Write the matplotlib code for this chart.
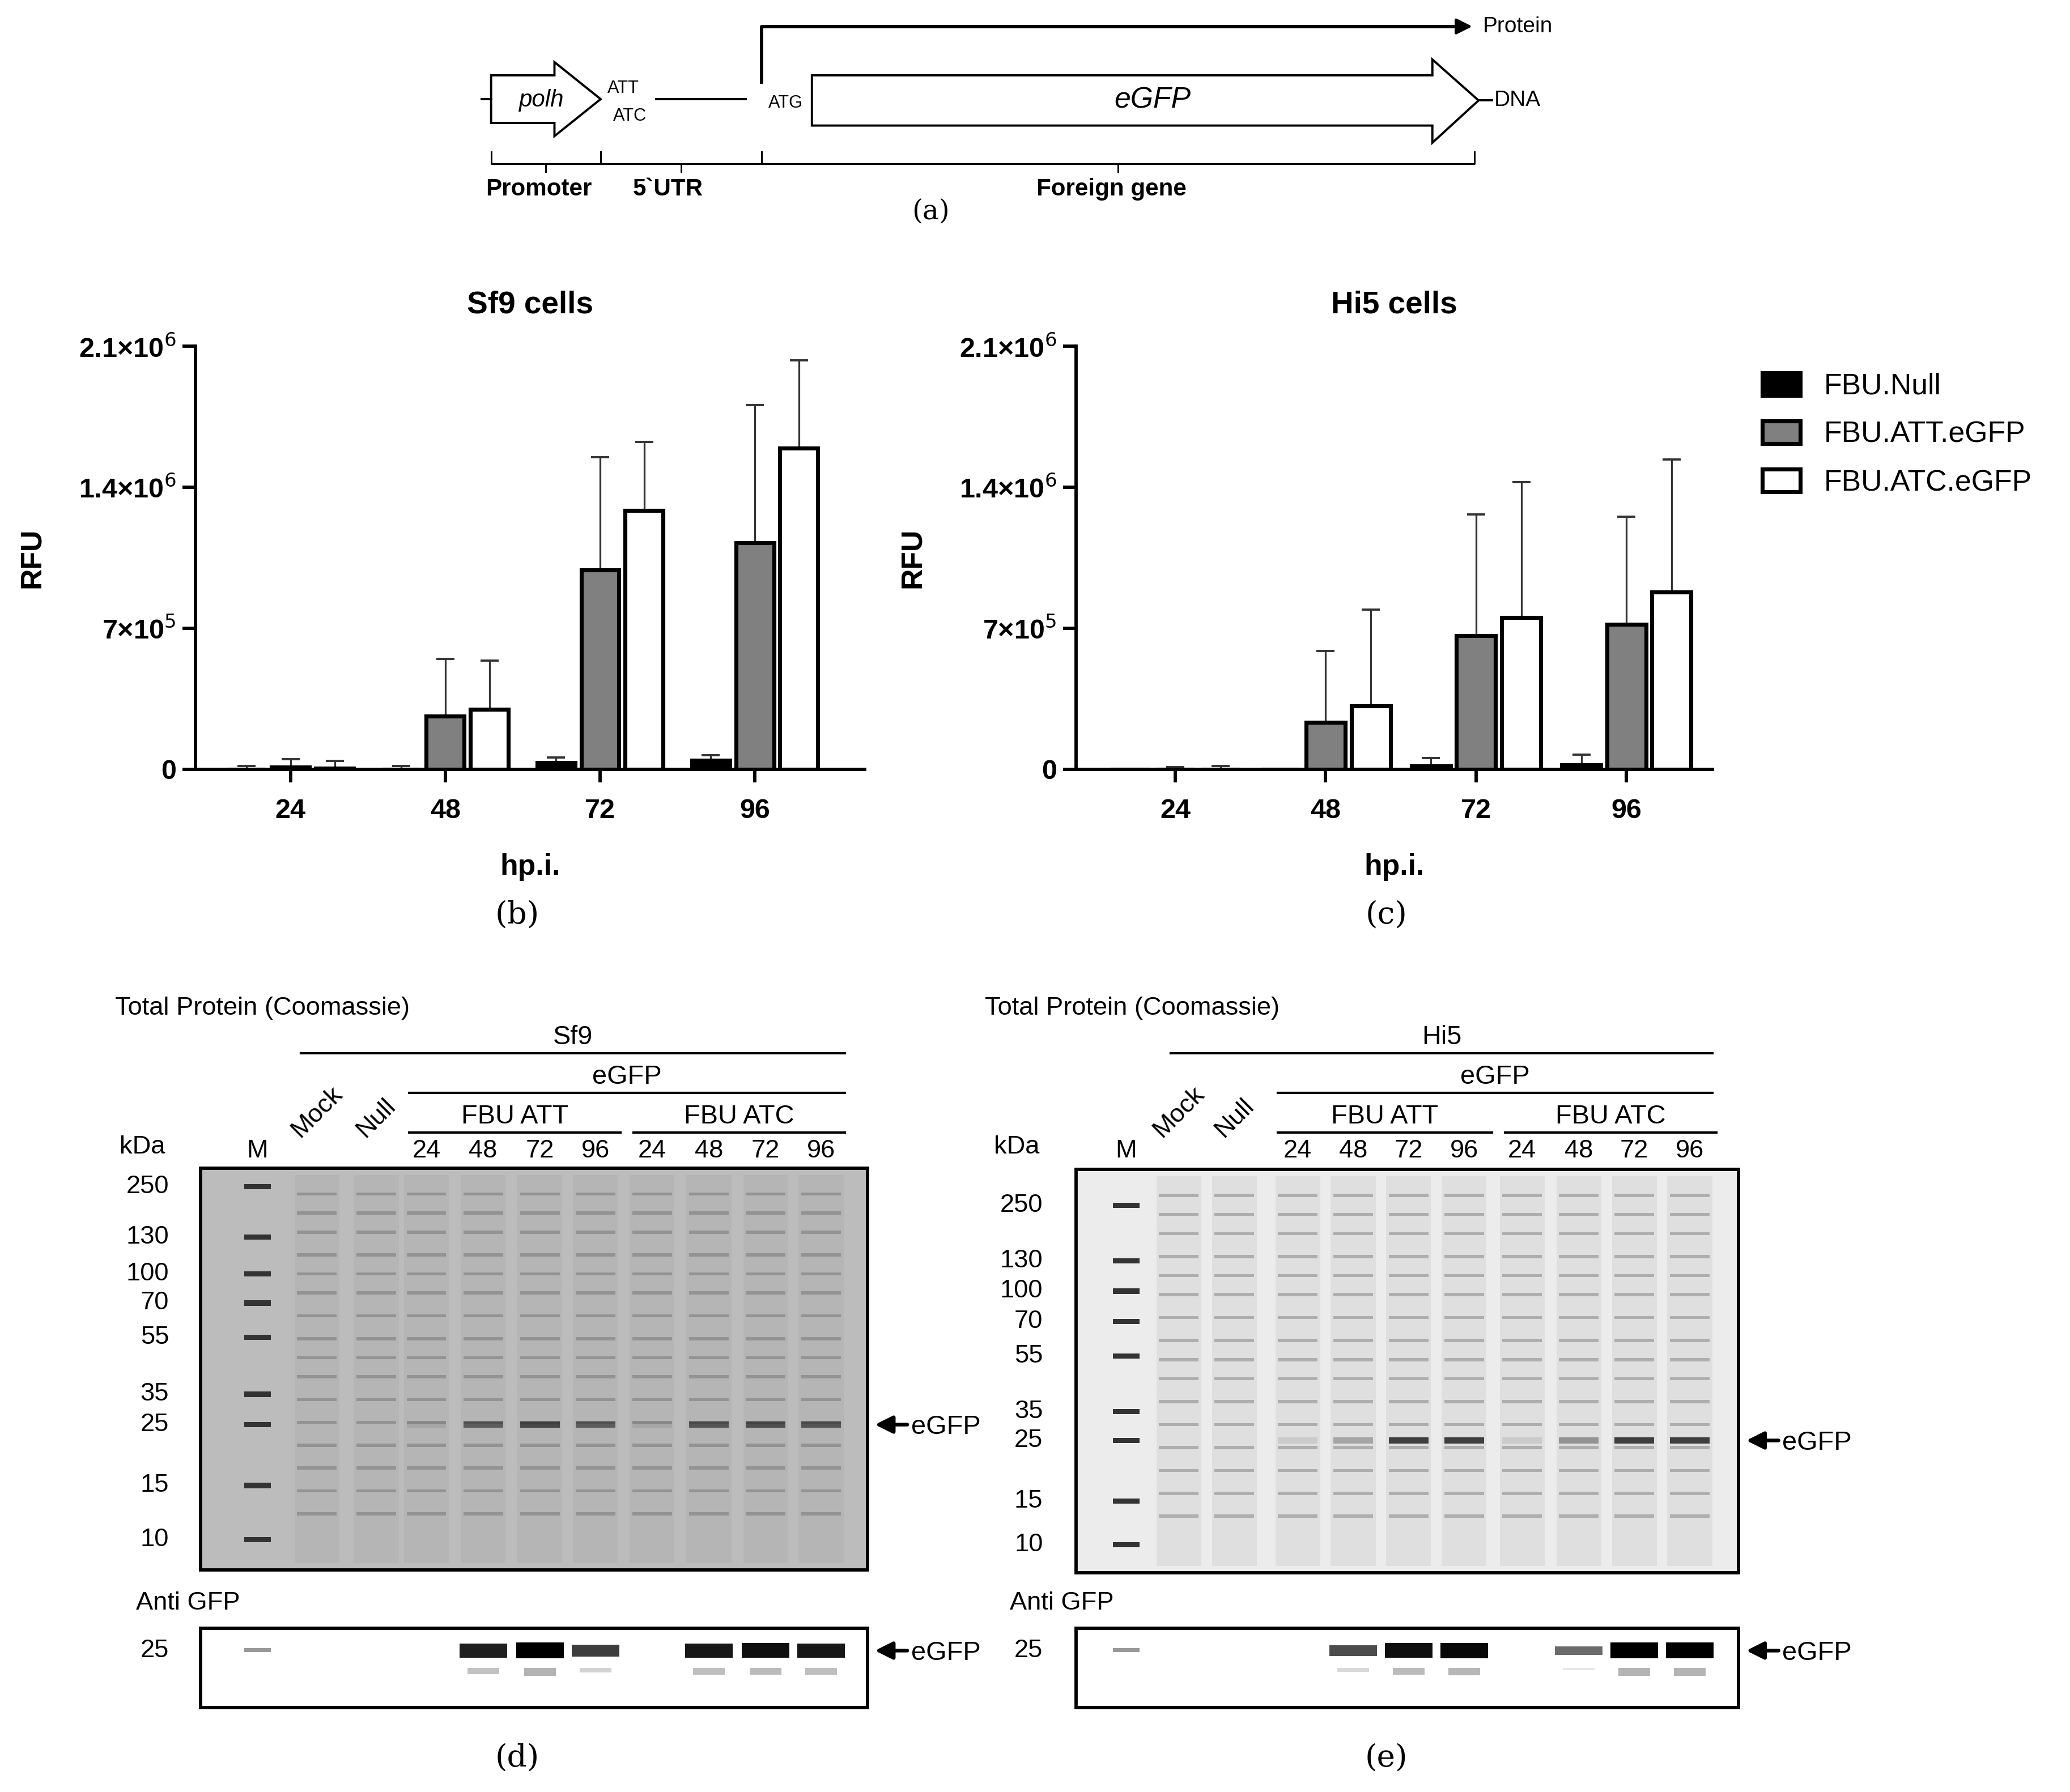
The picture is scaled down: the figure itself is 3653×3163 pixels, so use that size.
import matplotlib
matplotlib.use("Agg")
import matplotlib.pyplot as plt
import numpy as np
from matplotlib.patches import Polygon, Rectangle

plt.rcParams['font.family'] = ['Liberation Sans', 'DejaVu Sans']

# ---------------- data ----------------
hpi = ["24", "48", "72", "96"]
series = ["FBU.Null", "FBU.ATT.eGFP", "FBU.ATC.eGFP"]
sf9_null = [0.0, 0.0, 0.032e6, 0.043e6]
sf9_null_err = [0.015e6, 0.015e6, 0.026e6, 0.026e6]
sf9_att = [0.01e6, 0.263e6, 0.989e6, 1.123e6]
sf9_att_err = [0.04e6, 0.283e6, 0.560e6, 0.685e6]
sf9_atc = [0.005e6, 0.296e6, 1.285e6, 1.594e6]
sf9_atc_err = [0.035e6, 0.244e6, 0.341e6, 0.436e6]
hi5_null = [0.0, 0.0, 0.017e6, 0.022e6]
hi5_null_err = [0.0, 0.0, 0.037e6, 0.051e6]
hi5_att = [0.0, 0.231e6, 0.663e6, 0.719e6]
hi5_att_err = [0.01e6, 0.356e6, 0.603e6, 0.534e6]
hi5_atc = [0.0, 0.313e6, 0.754e6, 0.879e6]
hi5_atc_err = [0.015e6, 0.480e6, 0.671e6, 0.659e6]
yticks = [0, 7e5, 1.4e6, 2.1e6]
ytick_labels = ["0", r"7×10$^5$", r"1.4×10$^6$", r"2.1×10$^6$"]

marker_kda = ["250", "130", "100", "70", "55", "35", "25", "15", "10"]
lanes = ["M", "Mock", "Null", "24", "48", "72", "96", "24", "48", "72", "96"]
sf9_blot = [0, 0, 0, 0, 0.8, 1.0, 0.6, 0, 0.85, 0.9, 0.85]
hi5_blot = [0, 0, 0, 0, 0.5, 0.9, 0.95, 0, 0.3, 1.0, 1.0]
sf9_gel_egfp = [0, 0, 0, 0.1, 0.6, 0.75, 0.6, 0.1, 0.65, 0.7, 0.65]
hi5_gel_egfp = [0, 0, 0, 0.1, 0.3, 0.85, 0.85, 0.1, 0.4, 0.85, 0.85]

W, H = 1568, 1356
fig = plt.figure(figsize=(3653/233, 3163/233), dpi=233)
ax0 = fig.add_axes([0, 0, 1, 1])
ax0.set_xlim(0, W); ax0.set_ylim(H, 0); ax0.axis('off')

# ---------------- (a) schematic ----------------
lw = 1.2
ax0.plot([365, 372], [75, 75], color='k', lw=lw)
ax0.add_patch(Polygon([[372, 57], [420, 57], [420, 47], [455, 75], [420, 103], [420, 93], [372, 93]],
                      closed=True, fc='white', ec='k', lw=lw))
ax0.text(410, 76, "polh", style='italic', fontsize=13, ha='center', va='center')
ax0.text(472, 67, "ATT", fontsize=9.5, ha='center', va='center')
ax0.text(477, 88, "ATC", fontsize=9.5, ha='center', va='center')
ax0.plot([497, 565], [75, 75], color='k', lw=lw)
ax0.text(595, 78, "ATG", fontsize=9.5, ha='center', va='center')
ax0.add_patch(Polygon([[615, 57], [1085, 57], [1085, 45], [1120, 76], [1085, 108], [1085, 95], [615, 95]],
                      closed=True, fc='white', ec='k', lw=lw))
ax0.text(873, 76, "eGFP", style='italic', fontsize=16, ha='center', va='center')
ax0.plot([1120, 1130], [76, 76], color='k', lw=lw)
ax0.text(1132, 76, "DNA", fontsize=12, ha='left', va='center')
ax0.plot([577, 577, 1100], [62, 20, 20], color='k', lw=1.8)
ax0.annotate("", xy=(1118, 20), xytext=(1095, 20),
             arrowprops=dict(arrowstyle='-|>', color='k', lw=1.5, mutation_scale=18))
ax0.text(1123, 20, "Protein", fontsize=12, ha='left', va='center')
for x1, x2 in [(372, 455), (455, 577), (577, 1117)]:
    ax0.plot([x1, x1, x2, x2], [115, 124, 124, 115], color='k', lw=0.9)
    ax0.plot([(x1+x2)/2]*2, [124, 130], color='k', lw=0.9)
ax0.text(408, 143, "Promoter", fontsize=13, fontweight='bold', ha='center', va='center')
ax0.text(506, 143, "5`UTR", fontsize=13, fontweight='bold', ha='center', va='center')
ax0.text(842, 143, "Foreign gene", fontsize=13, fontweight='bold', ha='center', va='center')
ax0.text(705, 160, "(a)", family='DejaVu Serif', fontsize=15, ha='center', va='center')
ax0.text(392, 692, "(b)", family='DejaVu Serif', fontsize=17, ha='center', va='center')
ax0.text(1050, 692, "(c)", family='DejaVu Serif', fontsize=17, ha='center', va='center')
ax0.text(392, 1330, "(d)", family='DejaVu Serif', fontsize=17, ha='center', va='center')
ax0.text(1050, 1330, "(e)", family='DejaVu Serif', fontsize=17, ha='center', va='center')

# ---------------- bar charts ----------------
colors = ['black', '#808080', 'white']
def bars(ax, vals, errs, width, offs, xlim, title):
    x = np.arange(len(hpi))
    for i, (v, e) in enumerate(zip(vals, errs)):
        xi = x + offs[i]
        ax.bar(xi, v, width, color=colors[i], edgecolor='black', linewidth=2.2, label=series[i], zorder=3)
        ax.errorbar(xi, v, yerr=[np.zeros(len(v)), e], fmt='none', ecolor='#333333',
                    elinewidth=1.0, capsize=5, capthick=1.2, zorder=2)
    ax.set_xlim(*xlim); ax.set_ylim(0, 2.1e6)
    ax.set_xticks(x, hpi)
    ax.set_yticks(yticks, ytick_labels)
    for s in ['top', 'right']:
        ax.spines[s].set_visible(False)
    for s in ['left', 'bottom']:
        ax.spines[s].set_linewidth(1.8)
    ax.tick_params(width=1.8, length=7, labelsize=15)
    ax.tick_params(axis='x', pad=9)
    for t in ax.get_xticklabels() + ax.get_yticklabels():
        t.set_fontweight('bold')
    ax.set_xlabel("hp.i.", fontsize=16, fontweight='bold', labelpad=16)
    ax.set_ylabel("RFU", fontsize=16, fontweight='bold', labelpad=18)
    ax.set_title(title, fontsize=17, fontweight='bold', pad=18)

ax1 = fig.add_axes([148/W, 1-582/H, 507/W, 320/H])
bars(ax1, [sf9_null, sf9_att, sf9_atc], [sf9_null_err, sf9_att_err, sf9_atc_err],
     0.245, [-0.285, 0, 0.285], (-0.615, 3.71), "Sf9 cells")
ax2 = fig.add_axes([815/W, 1-582/H, 482/W, 320/H])
bars(ax2, [hi5_null, hi5_att, hi5_atc], [hi5_null_err, hi5_att_err, hi5_atc_err],
     0.26, [-0.3, 0, 0.3], (-0.66, 3.57), "Hi5 cells")
fig.legend(*ax2.get_legend_handles_labels(), loc='upper left', bbox_to_anchor=(1315/W, 1-262/H),
           frameon=False, fontsize=16, handlelength=1.3, handleheight=0.8, labelspacing=0.7)

# ---------------- gels ----------------
bg_bands = [0.04, 0.09, 0.14, 0.2, 0.25, 0.3, 0.36, 0.42, 0.47, 0.52, 0.58, 0.64, 0.7, 0.76, 0.82, 0.88]
def gel(lx, box, mk_y, mk_x, egfp_y, gel_int, blot_int, bg, lanecol, header, brackets, lab_y):
    x1, x2, y1, y2 = box
    ax0.text(header, 763, "Total Protein (Coomassie)", fontsize=14, ha='left', va='center')
    for (a, b, yy, t) in brackets:
        ax0.plot([a, b], [yy, yy], color='k', lw=1.3)
        ax0.text((a+b)/2, yy-12, t, fontsize=14.5, ha='center', va='center')
    ax0.text(mk_x-20, 868, "kDa", fontsize=14, ha='center', va='center')
    for i, (xc, t) in enumerate(zip(lx, lanes)):
        if t in ("Mock", "Null"):
            ax0.text(xc, lab_y+6, t, fontsize=14, rotation=45, ha='center', va='bottom')
        else:
            ax0.text(xc, lab_y+13, t, fontsize=14, ha='center', va='center')
    ax0.add_patch(Rectangle((x1, y1), x2-x1, y2-y1, fc=bg, ec='none'))
    for i, xc in enumerate(lx):
        hw = 15
        if i == 0:
            for yy in mk_y:
                ax0.add_patch(Rectangle((xc-10, yy-2), 20, 4, fc='#333333', ec='none'))
            continue
        ax0.add_patch(Rectangle((xc-hw-2, y1+5), 2*hw+4, y2-y1-10, fc=lanecol, ec='none', alpha=0.35))
        for f in bg_bands:
            yy = y1 + 8 + f*(y2-y1-16)
            ax0.add_patch(Rectangle((xc-hw, yy-1.2), 2*hw, 2.4, fc='#555555', ec='none', alpha=0.35))
        if gel_int[i] > 0:
            ax0.add_patch(Rectangle((xc-hw, egfp_y-2.5), 2*hw, 5, fc='#222222', ec='none', alpha=gel_int[i]))
    ax0.add_patch(Rectangle((x1, y1), x2-x1, y2-y1, fc='none', ec='k', lw=1.8))
    for t, yy in zip(marker_kda, mk_y):
        ax0.text(mk_x, yy, t, fontsize=14, ha='right', va='center')
    ax0.annotate("", xy=(x2+3, egfp_y), xytext=(x2+33, egfp_y),
                 arrowprops=dict(arrowstyle='-|>', color='k', lw=2, mutation_scale=20))
    ax0.text(x2+33, egfp_y+2, "eGFP", fontsize=14.5, ha='left', va='center')
    # blot
    ax0.text(mk_x-25, 1213, "Anti GFP", fontsize=14, ha='left', va='center')
    ax0.add_patch(Rectangle((x1, 1232), x2-x1, 60, fc='white', ec='k', lw=1.8))
    ax0.text(mk_x, 1249, "25", fontsize=14, ha='right', va='center')
    ax0.add_patch(Rectangle((lx[0]-10, 1247), 20, 3, fc='#999999', ec='none'))
    for i, xc in enumerate(lx):
        v = blot_int[i]
        if v > 0:
            ax0.add_patch(Rectangle((xc-18, 1249-2-4*v), 36, 4+8*v, fc='black', ec='none', alpha=0.4+0.6*v))
            ax0.add_patch(Rectangle((xc-12, 1262), 24, 6*v, fc='#444444', ec='none', alpha=0.4*v))
    ax0.annotate("", xy=(x2+3, 1249), xytext=(x2+33, 1249),
                 arrowprops=dict(arrowstyle='-|>', color='k', lw=2, mutation_scale=20))
    ax0.text(x2+33, 1251, "eGFP", fontsize=14.5, ha='left', va='center')

sf9_lx = [195, 240, 285, 323, 366, 409, 451, 494, 537, 580, 622]
gel(sf9_lx, (152, 657, 884, 1188), [898, 936, 964, 986, 1012, 1055, 1078, 1124, 1165], 128, 1078,
    sf9_gel_egfp, sf9_blot, '#bcbcbc', '#a8a8a8', 87,
    [(228, 640, 797, "Sf9"), (310, 640, 827, "eGFP"), (310, 470, 857, "FBU ATT"), (480, 640, 857, "FBU ATC")], 858)
hi5_lx = [853, 893, 935, 983, 1025, 1067, 1109, 1153, 1196, 1238, 1280]
gel(hi5_lx, (815, 1317, 885, 1190), [912, 954, 977, 1000, 1026, 1068, 1090, 1136, 1169], 790, 1090,
    hi5_gel_egfp, hi5_blot, '#ececec', '#c8c8c8', 746,
    [(887, 1297, 797, "Hi5"), (968, 1297, 827, "eGFP"), (968, 1130, 857, "FBU ATT"), (1140, 1300, 857, "FBU ATC")], 858)

fig.savefig("out.png", dpi=233)
